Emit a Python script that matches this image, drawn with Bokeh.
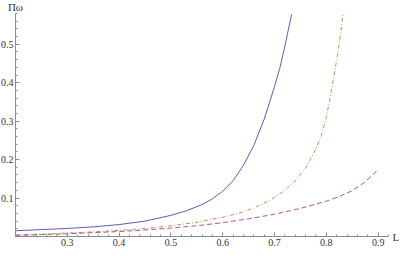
from bokeh.plotting import figure
from bokeh.models import FixedTicker, Label, Range1d
from bokeh.embed import file_html
from bokeh.resources import INLINE

# Data
L_solid = [0.2, 0.25, 0.3, 0.35, 0.4, 0.45, 0.5, 0.53, 0.56, 0.58, 0.6, 0.62, 0.64, 0.66, 0.68, 0.70, 0.71, 0.72, 0.733]
P_solid = [0.015, 0.018, 0.021, 0.025, 0.031, 0.040, 0.055, 0.067, 0.083, 0.098, 0.118, 0.145, 0.185, 0.237, 0.305, 0.39, 0.437, 0.495, 0.578]

L_dotdash = [0.2, 0.25, 0.3, 0.35, 0.4, 0.45, 0.5, 0.55, 0.6, 0.63, 0.66, 0.69, 0.72, 0.74, 0.76, 0.78, 0.79, 0.8, 0.81, 0.82, 0.827, 0.832]
P_dotdash = [0.004, 0.006, 0.009, 0.012, 0.016, 0.021, 0.028, 0.037, 0.05, 0.06, 0.074, 0.093, 0.12, 0.145, 0.178, 0.228, 0.262, 0.31, 0.38, 0.46, 0.52, 0.578]

L_dashed = [0.2, 0.25, 0.3, 0.35, 0.4, 0.45, 0.5, 0.55, 0.6, 0.65, 0.7, 0.75, 0.8, 0.825, 0.85, 0.875, 0.9]
P_dashed = [0.003, 0.005, 0.007, 0.01, 0.013, 0.017, 0.022, 0.028, 0.036, 0.046, 0.058, 0.073, 0.092, 0.104, 0.119, 0.142, 0.174]

x_ticks = [0.3, 0.4, 0.5, 0.6, 0.7, 0.8, 0.9]
x_minor = [round(0.2 + 0.02 * i, 2) for i in range(37)]
y_ticks = [0.1, 0.2, 0.3, 0.4, 0.5]
y_minor = [round(0.02 * i, 2) for i in range(30)]

x_label = "L"
y_label = "Πω"

X0, X1 = 0.2, 0.92   # plotted L range (axis extent)
Y0, Y1 = 0.0, 0.58   # plotted Πω range (axis extent)

W, H = 399, 251
# pixel placement of the axes inside the figure
ax_left, ax_right, ax_top, ax_bottom = 15, 388, 13, 236
kx = (X1 - X0) / (ax_right - ax_left)
ky = (Y1 - Y0) / (ax_bottom - ax_top)

p = figure(width=W, height=H, output_backend="svg", toolbar_location=None,
           x_range=Range1d(X0 - ax_left * kx, X1 + (W - ax_right) * kx),
           y_range=Range1d(Y0 - (H - ax_bottom) * ky, Y1 + ax_top * ky),
           min_border_left=0, min_border_right=0, min_border_top=0, min_border_bottom=0)
p.outline_line_color = None
p.xgrid.visible = False
p.ygrid.visible = False
p.background_fill_color = "white"

p.xaxis.fixed_location = Y0
p.yaxis.fixed_location = X0
p.xaxis.bounds = (X0, X1)
p.yaxis.bounds = (Y0, Y1)

for ax, ticks, minor in ((p.xaxis[0], x_ticks, x_minor), (p.yaxis[0], y_ticks, y_minor)):
    ax.ticker = FixedTicker(ticks=ticks, minor_ticks=minor)
    ax.axis_line_color = "#8c8c8c"
    ax.major_tick_line_color = "#8c8c8c"
    ax.minor_tick_line_color = "#8c8c8c"
    ax.major_tick_in = 4
    ax.major_tick_out = 0
    ax.minor_tick_in = 2
    ax.minor_tick_out = 0
    ax.major_label_text_font = "Liberation Serif"
    ax.major_label_text_font_size = "10px"
    ax.major_label_text_color = "#333333"
    ax.major_label_standoff = 2

p.line(L_solid, P_solid, line_color="#5d5db5", line_width=1)
p.line(L_dotdash, P_dotdash, line_color="#b09a55", line_width=1, line_dash="4 2 1 2")
p.line(L_dashed, P_dashed, line_color="#b05585", line_width=1, line_dash="5 3")

p.add_layout(Label(x=X1 + 4 * kx, y=Y0, text=x_label,
                   text_align="left", text_baseline="middle", text_font="Liberation Serif",
                   text_font_size="11px", text_color="#333333"))
p.add_layout(Label(x=X0, y=Y1 + 7 * ky, text=y_label,
                   text_align="center", text_baseline="middle", text_font="Liberation Serif",
                   text_font_size="11px", text_color="#333333"))

open("out.html", "w").write(file_html(p, INLINE))
